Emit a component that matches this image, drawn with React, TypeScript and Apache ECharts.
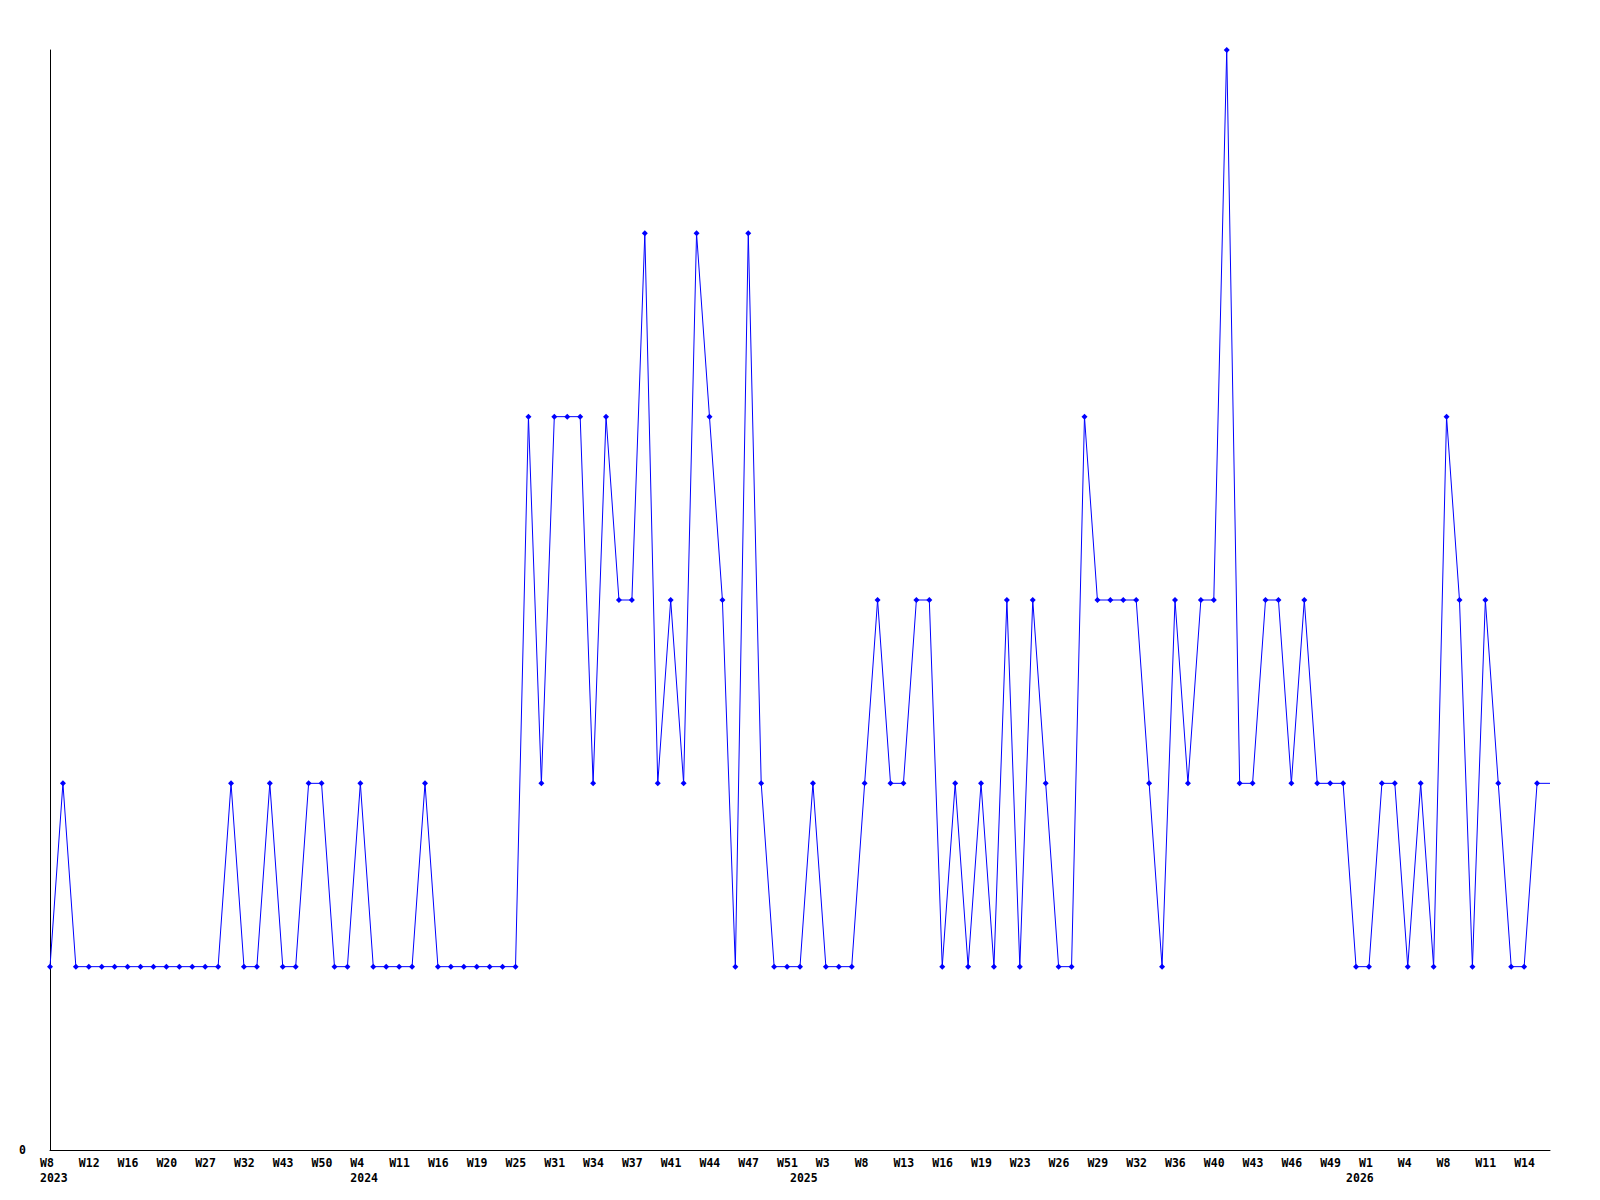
import React, { useEffect, useRef } from "react";
import * as echarts from "echarts";

// ISO-like week numbers of each data point (consecutive categories)
const weeks = [
  // 2023
  8, 9, 10, 12, 13, 14, 16, 17, 18, 20, 22, 25, 27, 29, 31, 32, 35, 39, 43, 45, 48, 50, 51, 52,
  // 2024
  4, 6, 8, 11, 13, 14, 16, 17, 18, 19, 21, 23, 25, 27, 29, 31, 32, 33, 34, 35, 36, 37, 38, 40, 41, 42, 43, 44, 45, 46, 47, 48, 50, 51,
  // 2025
  1, 2, 3, 5, 6, 8, 10, 12, 13, 14, 15, 16, 17, 18, 19, 21, 22, 23, 24, 25, 26, 27, 28, 29, 30, 31, 32, 34, 35, 36, 37, 39, 40, 41, 42, 43, 44, 45, 46, 47, 48, 49, 50,
  52,
  // 2026
  1, 2, 3, 4, 5, 7, 8, 9, 10, 11, 12, 13, 14, 15, 16,
];

const values = [
  1, 2, 1, 1, 1, 1, 1, 1, 1, 1, 1, 1, 1, 1, 2, 1, 1, 2, 1, 1, 2, 2, 1, 1,
  2, 1, 1, 1, 1, 2, 1, 1, 1, 1, 1, 1, 1, 4, 2, 4, 4, 4, 2, 4, 3, 3, 5, 2, 3, 2, 5, 4, 3, 1, 5, 2, 1, 1, 1,
  2, 1, 1, 1, 2, 3, 2, 2, 3, 3, 1, 2, 1, 2, 1, 3, 1, 3, 2, 1, 1, 4, 3, 3, 3, 3, 2, 1, 3, 2, 3, 3, 6, 2, 2, 3, 3, 2, 3, 2, 2, 2, 1,
  1, 2, 2, 1, 2, 1, 4, 3, 1, 3, 2, 1, 1, 2, 2,
];

const yearLabels = ["2023", "2024", "2025", "2026"];
const yearLabelAt = [0, 24, 58, 101];

const categories = weeks.map((w) => `W${w}`);

const LABEL_STEP = 3;
const FONT = '"DejaVu Sans Mono", "Liberation Mono", monospace';

export default function App() {
  const ref = useRef<HTMLDivElement>(null);
  useEffect(() => {
    if (!ref.current) return;
    const chart = echarts.init(ref.current, null, { renderer: "svg" });
    const data = values.map((v, i) =>
      i === values.length - 1 ? { value: v, symbol: "none" } : v
    );
    const yearOf = (idx: number) => {
      const k = yearLabelAt.indexOf(idx);
      return k >= 0 ? yearLabels[k] : null;
    };
    chart.setOption({
      animation: false,
      backgroundColor: "#ffffff",
      grid: { left: 50, right: 50, top: 50, bottom: 50, containLabel: false },
      xAxis: {
        type: "category",
        data: categories,
        boundaryGap: false,
        axisLine: { show: true, lineStyle: { color: "#000000", width: 1 } },
        axisTick: { show: false },
        splitLine: { show: false },
        axisLabel: {
          interval: (idx: number) => idx % LABEL_STEP === 0 || yearOf(idx) !== null,
          align: "left",
          padding: [0, 0, 0, -10],
          margin: 5,
          color: "#000000",
          fontFamily: FONT,
          fontWeight: "bold",
          fontSize: 11.5,
          lineHeight: 15,
          formatter: (val: string, idx: number) => {
            const wk = idx % LABEL_STEP === 0 ? val : "";
            const yr = yearOf(idx);
            return yr ? `${wk}\n${yr}` : wk;
          },
        },
      },
      yAxis: {
        type: "value",
        min: 0,
        max: 6,
        interval: 1,
        axisLine: { show: true, lineStyle: { color: "#000000", width: 1 } },
        axisTick: { show: false },
        splitLine: { show: false },
        axisLabel: {
          margin: 24,
          color: "#000000",
          fontFamily: FONT,
          fontWeight: "bold",
          fontSize: 11.5,
          formatter: (v: number) => (v === 0 ? "0" : ""),
        },
      },
      series: [
        {
          type: "line",
          data,
          symbol: "diamond",
          symbolSize: 6,
          showAllSymbol: true,
          itemStyle: { color: "#0000ff" },
          lineStyle: { color: "#0000ff", width: 1 },
        },
      ],
    });
    return () => chart.dispose();
  }, []);
  return (
    <div
      ref={ref}
      style={{ position: "fixed", left: 0, top: 0, width: 1600, height: 1200, background: "#fff" }}
    />
  );
}
